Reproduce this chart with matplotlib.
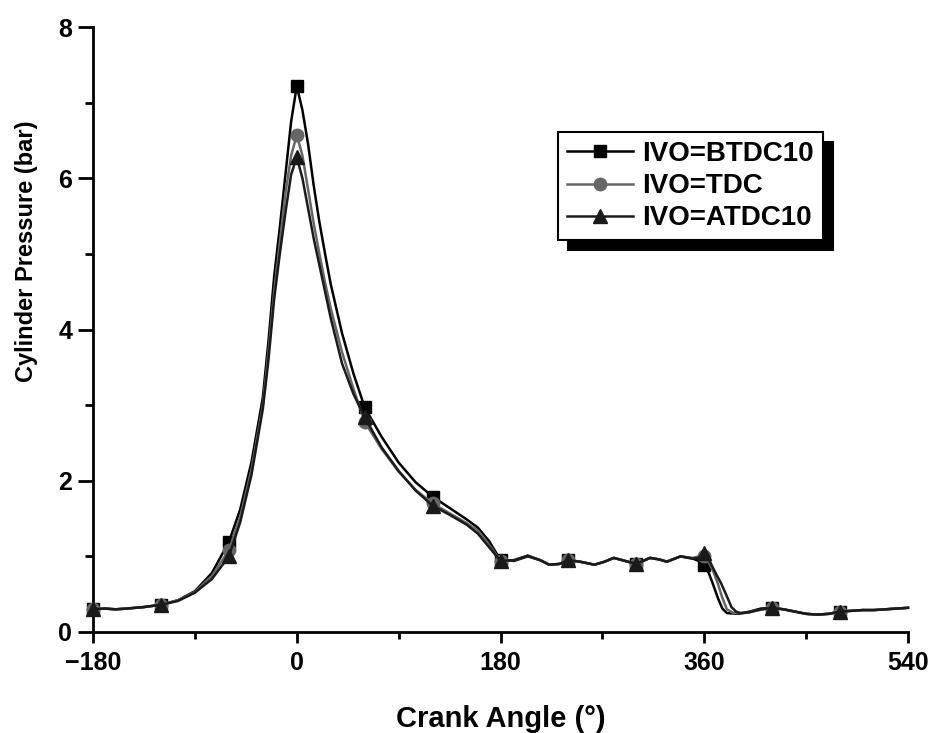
import matplotlib
matplotlib.use('Agg')
import matplotlib.pyplot as plt
from matplotlib.ticker import MultipleLocator

plt.rcParams['font.family'] = ['Liberation Sans', 'DejaVu Sans']
plt.rcParams['font.weight'] = 'bold'

# values (crank angle in deg, pressure in bar)
btdc_ca = [-180, -170, -160, -150, -135, -120, -105, -90, -75, -60, -50, -40, -30, -25, -20, -15, -10, -5,
           0, 5, 10, 15, 20, 25, 30, 40, 50, 60, 75, 90, 105, 120, 135, 150, 160, 170, 180,
           192, 204, 215, 223, 232, 240, 250, 263, 272, 280, 290, 300, 312, 320, 327, 339, 350, 355,
           360, 364, 368, 372, 376, 380, 390, 400, 410, 420, 430, 440, 450, 460, 470, 480,
           490, 500, 510, 520, 530, 540]
btdc_p = [0.30, 0.31, 0.30, 0.31, 0.33, 0.36, 0.42, 0.54, 0.78, 1.19, 1.62, 2.25, 3.10, 3.85, 4.70, 5.35, 6.05, 6.75,
          7.22, 6.90, 6.45, 5.90, 5.42, 5.00, 4.60, 3.95, 3.42, 2.97, 2.58, 2.24, 1.98, 1.79, 1.64, 1.49, 1.38, 1.20, 0.95,
          0.94, 1.00, 0.95, 0.89, 0.90, 0.95, 0.93, 0.89, 0.93, 0.98, 0.94, 0.90, 0.98, 0.96, 0.93, 1.00, 0.97, 0.94,
          0.89, 0.78, 0.62, 0.45, 0.31, 0.25, 0.24, 0.27, 0.31, 0.32, 0.30, 0.27, 0.24, 0.23, 0.24, 0.27,
          0.28, 0.29, 0.29, 0.30, 0.31, 0.32]

tdc_ca = [-180, -170, -160, -150, -135, -120, -105, -90, -75, -60, -50, -40, -30, -25, -20, -15, -10, -5,
          0, 5, 10, 15, 20, 25, 30, 40, 50, 60, 75, 90, 105, 120, 135, 150, 160, 170, 180,
          192, 204, 215, 223, 232, 240, 250, 263, 272, 280, 290, 300, 312, 320, 327, 339, 350, 355,
          360, 364, 368, 372, 376, 380, 386, 395, 405, 420, 430, 440, 450, 460, 470, 480,
          490, 500, 510, 520, 530, 540]
tdc_p = [0.30, 0.31, 0.30, 0.31, 0.33, 0.36, 0.42, 0.53, 0.74, 1.08, 1.52, 2.15, 3.00, 3.70, 4.50, 5.15, 5.80, 6.30,
         6.57, 6.30, 5.85, 5.40, 5.00, 4.62, 4.28, 3.70, 3.22, 2.78, 2.42, 2.12, 1.88, 1.70, 1.57, 1.44, 1.34, 1.15, 0.94,
         0.95, 1.01, 0.95, 0.89, 0.90, 0.95, 0.93, 0.89, 0.93, 0.98, 0.94, 0.90, 0.98, 0.96, 0.93, 1.00, 0.98, 1.00,
         1.00, 0.92, 0.80, 0.64, 0.45, 0.30, 0.25, 0.25, 0.28, 0.32, 0.30, 0.27, 0.24, 0.23, 0.24, 0.27,
         0.28, 0.29, 0.29, 0.30, 0.31, 0.32]

atdc_ca = [-180, -170, -160, -150, -135, -120, -105, -90, -75, -60, -50, -40, -30, -25, -20, -15, -10, -5,
           0, 5, 10, 15, 20, 25, 30, 40, 50, 60, 75, 90, 105, 120, 135, 150, 160, 170, 180,
           192, 204, 215, 223, 232, 240, 250, 263, 272, 280, 290, 300, 312, 320, 327, 339, 350, 355,
           360, 365, 370, 375, 380, 384, 388, 392, 400, 410, 420, 430, 440, 450, 460, 470, 480,
           490, 500, 510, 520, 530, 540]
atdc_p = [0.30, 0.31, 0.30, 0.31, 0.33, 0.36, 0.41, 0.52, 0.70, 1.00, 1.45, 2.08, 2.95, 3.60, 4.40, 5.00, 5.55, 6.05,
          6.28, 6.00, 5.60, 5.20, 4.85, 4.50, 4.15, 3.55, 3.15, 2.84, 2.44, 2.13, 1.87, 1.67, 1.55, 1.42, 1.30, 1.12, 0.94,
          0.95, 1.01, 0.95, 0.89, 0.90, 0.95, 0.93, 0.89, 0.93, 0.98, 0.94, 0.90, 0.98, 0.96, 0.93, 1.00, 0.97, 0.98,
          1.04, 0.93, 0.78, 0.64, 0.47, 0.33, 0.27, 0.25, 0.26, 0.30, 0.32, 0.30, 0.27, 0.24, 0.23, 0.24, 0.27,
          0.28, 0.29, 0.29, 0.30, 0.31, 0.32]

labels = ['IVO=BTDC10', 'IVO=TDC', 'IVO=ATDC10']


def marker_idx(ca):
    # symbols sit on every 60 deg point, none on the last one
    return [i for i, a in enumerate(ca) if a % 60 == 0 and a < 540]


fig = plt.figure(figsize=(9.36, 7.33), dpi=100)
ax = fig.add_axes([0.0994, 0.1378, 0.8707, 0.8253])

ax.plot(btdc_ca, btdc_p, color='black', lw=1.8, marker='s', ms=9,
        markevery=marker_idx(btdc_ca), label=labels[0], clip_on=False, zorder=3)
ax.plot(tdc_ca, tdc_p, color='#666666', lw=1.8, marker='o', ms=9,
        markevery=marker_idx(tdc_ca), label=labels[1], clip_on=False, zorder=4)
ax.plot(atdc_ca, atdc_p, color='#1a1a1a', lw=1.8, marker='^', ms=10,
        markevery=marker_idx(atdc_ca), label=labels[2], clip_on=False, zorder=5)

ax.set_xlim(-180, 540)
ax.set_ylim(0, 8)
ax.xaxis.set_major_locator(MultipleLocator(180))
ax.xaxis.set_minor_locator(MultipleLocator(90))
ax.yaxis.set_major_locator(MultipleLocator(2))
ax.yaxis.set_minor_locator(MultipleLocator(1))

for side in ['top', 'right']:
    ax.spines[side].set_visible(False)
for side in ['left', 'bottom']:
    ax.spines[side].set_linewidth(2)

ax.tick_params(which='major', direction='out', length=8, width=2, labelsize=18, pad=6)
ax.tick_params(which='minor', direction='out', length=5, width=2)
ax.tick_params(axis='y', which='major', length=11, pad=4)
ax.tick_params(axis='y', which='minor', length=6)

ax.set_xlabel('Crank Angle (°)', fontsize=21, fontweight='bold')
ax.set_ylabel('Cylinder Pressure (bar)', fontsize=17, fontweight='bold')
ax.xaxis.set_label_coords(0.5, -0.12)
ax.yaxis.set_label_coords(-0.068, 0.63)

leg = ax.legend(loc='upper left', bbox_to_anchor=(0.571, 0.826), borderaxespad=0,
                fontsize=20, handlelength=2.35, handletextpad=0.35, labelspacing=0.22,
                borderpad=0.32, fancybox=False, edgecolor='black', framealpha=1,
                shadow={'ox': 7, 'oy': -7, 'facecolor': 'black', 'edgecolor': 'black', 'alpha': 1})
leg.get_frame().set_linewidth(1.5)

fig.savefig('out.png', dpi=100)
